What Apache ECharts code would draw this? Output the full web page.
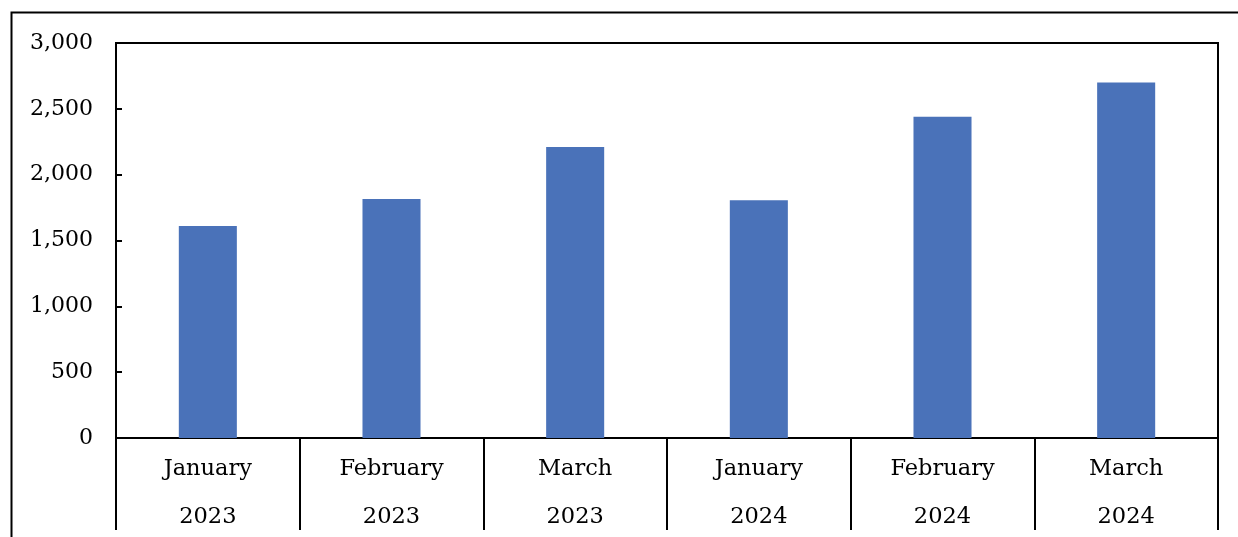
<!DOCTYPE html>
<html>
<head>
<meta charset="utf-8">
<script src="https://cdn.jsdelivr.net/npm/echarts@6/dist/echarts.min.js"></script>
<style>
  html, body { margin: 0; padding: 0; background: #ffffff; overflow: hidden; }
  #chart { width: 1238px; height: 537px; }
</style>
</head>
<body>
<div id="chart"></div>
<script>
// Monthly totals, first quarter of 2023 and 2024
const months = ['January', 'February', 'March', 'January', 'February', 'March'];
const years = ['2023', '2023', '2023', '2024', '2024', '2024'];
const values = [1610, 1815, 2210, 1805, 2440, 2700];

const yMin = 0;
const yMax = 3000;
const yStep = 500;

const categories = months.map((m, i) => m + '\n' + years[i]);
const FONT = '"DejaVu Serif", Georgia, serif';

const chart = echarts.init(document.getElementById('chart'), null, { renderer: 'canvas' });

chart.setOption({
  animation: false,
  backgroundColor: '#ffffff',
  graphic: [{
    type: 'rect',
    shape: { x: 11.5, y: 12.5, width: 1400, height: 700 },
    style: { fill: 'none', stroke: '#000000', lineWidth: 2 },
    silent: true
  }],
  grid: {
    left: 116, width: 1102, top: 43, height: 395,
    outerBoundsMode: 'none', containLabel: false,
    show: true, borderColor: '#000000', borderWidth: 2, backgroundColor: 'transparent'
  },
  xAxis: {
    type: 'category',
    data: categories,
    axisLine: { show: true, lineStyle: { color: '#000000', width: 2 } },
    axisTick: {
      show: true, interval: 0, length: 92, alignWithLabel: false,
      lineStyle: { color: '#000000', width: 2 }
    },
    axisLabel: {
      interval: 0, margin: 7, color: '#000000',
      fontFamily: FONT, fontSize: 22.5, lineHeight: 48
    },
    splitLine: { show: false }
  },
  yAxis: {
    type: 'value',
    min: yMin, max: yMax, interval: yStep,
    axisLine: { show: true, lineStyle: { color: '#000000', width: 2 } },
    axisTick: { show: true, inside: true, length: 6, lineStyle: { color: '#000000', width: 2 } },
    axisLabel: {
      margin: 23, color: '#000000', fontFamily: FONT, fontSize: 22,
      formatter: v => v.toLocaleString('en-US')
    },
    splitLine: { show: false }
  },
  series: [{
    type: 'bar',
    data: values,
    barWidth: '31.6%',
    itemStyle: { color: '#4a72b9' }
  }]
});
</script>
</body>
</html>
